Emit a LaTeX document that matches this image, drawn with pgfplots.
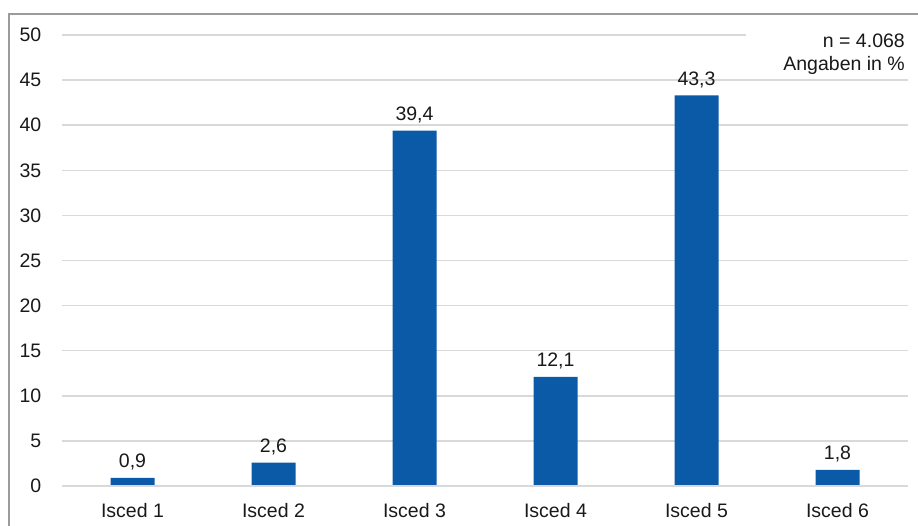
\documentclass[border=0pt]{standalone}
\usepackage{pgfplots}
\pgfplotsset{compat=1.18}
\usepackage{fontspec}
\setmainfont{Liberation Sans}
\definecolor{barblue}{RGB}{10,90,168}
\definecolor{gridgray}{RGB}{217,217,217}
\definecolor{framegray}{RGB}{155,155,155}
\definecolor{txt}{RGB}{25,25,25}
\begin{document}
\begin{tikzpicture}[x=1pt,y=1pt]
\fontsize{19.5}{23}\selectfont
\begin{axis}[
  at={(62pt,40pt)}, anchor=south west,
  scale only axis, width=846pt, height=451pt,
  xmin=-0.5, xmax=5.5, ymin=0, ymax=50,
  ytick={0,5,...,50},
  xtick=data,
  xticklabels={Isced 1,Isced 2,Isced 3,Isced 4,Isced 5,Isced 6},
  axis line style={draw=none},
  axis x line*=bottom,
  axis y line*=left,
  major tick length=0pt,
  ymajorgrids, grid style={gridgray, line width=1.5pt},
  tick label style={font=\fontsize{19.5}{23}\selectfont, text=txt},
  yticklabel style={xshift=-14pt},
  xticklabel style={yshift=-11pt},
  /pgf/number format/assume math mode=true,
  ybar, bar width=44pt,
  nodes near coords,
  nodes near coords style={font=\fontsize{19.5}{23}\selectfont, text=txt, yshift=1pt, /pgf/number format/.cd, fixed, fixed zerofill, precision=1, use comma, assume math mode=true},
  clip=false,
]
\addplot[fill=barblue, draw=none] coordinates {(0,0.9) (1,2.6) (2,39.4) (3,12.1) (4,43.3) (5,1.8)};
\draw[gridgray, line width=1.5pt] (axis cs:-0.5,0) -- (axis cs:5.5,0);
\end{axis}
\fill[white] (746pt,450pt) rectangle (912pt,502pt);
\node[align=right, anchor=north east, inner sep=2pt, text=txt, font=\fontsize{19.5}{23}\selectfont] at (907pt,494pt) {n = 4.068\\Angaben in \%};
\draw[framegray, line width=2pt] (9pt,-20pt) rectangle (940pt,512pt);
\pgfresetboundingbox
\path[use as bounding box] (0,0) rectangle (918pt,526pt);
\end{tikzpicture}
\end{document}
